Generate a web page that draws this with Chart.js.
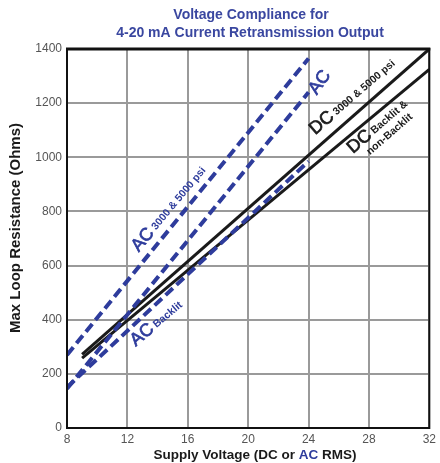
<!DOCTYPE html>
<html>
<head>
<meta charset="utf-8">
<script src="https://cdn.jsdelivr.net/npm/chart.js@4"></script>
<style>
  html, body { margin: 0; padding: 0; background: #fff; }
  #wrap { width: 440px; height: 463px; }
</style>
</head>
<body>
<div id="wrap"><canvas id="chart" width="440" height="463"></canvas></div>
<script>
// data (supply voltage V -> max loop resistance ohms)
const acHighV = [8, 24];
const acHighR = [270, 1365];
const acV = [8, 24];
const acR = [145, 1240];
const acBacklitV = [8, 24];
const acBacklitR = [150, 985];
const dcHighV = [9, 32];
const dcHighR = [272, 1400];
const dcBacklitV = [9, 32];
const dcBacklitR = [258, 1325];

const xTicks = [8, 12, 16, 20, 24, 28, 32];
const yTicks = [0, 200, 400, 600, 800, 1000, 1200, 1400];

const BLUE = '#2e3c9c';
const TITLE_BLUE = '#3a47a0';
const FONT = '"Liberation Sans", Arial, sans-serif';

const pts = (xs, ys) => xs.map((x, i) => ({ x: x, y: ys[i] }));

// ラベル: 線に沿って回転したテキスト
const lineLabels = [
    { x: 12.75, y: 648, angle: -50, big: 'AC', small: '3000 & 5000 psi', color: BLUE },
    { x: 24.55, y: 1228, angle: -55, big: 'AC', small: '', color: BLUE },
    { x: 12.55, y: 300, angle: -40, big: 'AC', small: 'Backlit', color: BLUE },
    { x: 24.45, y: 1081, angle: -41, big: 'DC', small: '3000 & 5000 psi', color: '#1a1a1a' },
    { x: 26.95, y: 1012, angle: -41, big: 'DC', small: 'Backlit &', small2: 'non-Backlit', color: '#1a1a1a' }
];

const extras = {
    id: 'extras',
    afterDatasetsDraw(chart) {
        const ctx = chart.ctx;
        const a = chart.chartArea;
        const xs = chart.scales.x, ys = chart.scales.y;

        // frame
        ctx.save();
        ctx.strokeStyle = '#111';
        ctx.lineWidth = 2;
        ctx.strokeRect(a.left, a.top, a.right - a.left, a.bottom - a.top);
        ctx.lineWidth = 3;
        ctx.beginPath();
        ctx.moveTo(a.left - 1, a.top);
        ctx.lineTo(a.right + 1, a.top);
        ctx.stroke();
        ctx.restore();

        // line labels
        lineLabels.forEach(l => {
            ctx.save();
            ctx.translate(xs.getPixelForValue(l.x), ys.getPixelForValue(l.y));
            ctx.rotate(l.angle * Math.PI / 180);
            ctx.fillStyle = l.color;
            ctx.strokeStyle = l.color;
            ctx.lineWidth = 0.7;
            ctx.textBaseline = 'alphabetic';
            ctx.textAlign = 'left';
            ctx.font = '18px ' + FONT;
            ctx.fillText(l.big, 0, 0);
            ctx.strokeText(l.big, 0, 0);
            const w = ctx.measureText(l.big).width;
            ctx.font = 'bold 10.5px ' + FONT;
            if (l.small) ctx.fillText(l.small, w + 3, -1);
            if (l.small2) ctx.fillText(l.small2, w - 14, 12);
            ctx.restore();
        });

        // titles
        ctx.save();
        ctx.fillStyle = TITLE_BLUE;
        ctx.font = 'bold 14px ' + FONT;
        ctx.textAlign = 'center';
        ctx.textBaseline = 'middle';
        ctx.fillText('Voltage Compliance for', 251, 15);
        ctx.fillText('4-20 mA Current Retransmission Output', 250, 33);

        // x title in two colours
        const parts = [['Supply Voltage (DC or ', '#1a1a1a'], ['AC', BLUE], [' RMS)', '#1a1a1a']];
        ctx.font = 'bold 13.5px ' + FONT;
        let total = 0;
        parts.forEach(p => { total += ctx.measureText(p[0]).width; });
        let px = 255 - total / 2;
        ctx.textAlign = 'left';
        parts.forEach(p => {
            ctx.fillStyle = p[1];
            ctx.fillText(p[0], px, 455);
            px += ctx.measureText(p[0]).width;
        });

        // y title
        ctx.translate(16, 228);
        ctx.rotate(-Math.PI / 2);
        ctx.textAlign = 'center';
        ctx.fillStyle = '#1a1a1a';
        ctx.font = 'bold 15px ' + FONT;
        ctx.fillText('Max Loop Resistance (Ohms)', 0, 0);
        ctx.restore();
    }
};

const dashed = { borderColor: BLUE, borderWidth: 4, borderDash: [10, 5], borderCapStyle: 'butt' };
const solid = { borderColor: '#1a1a1a', borderWidth: 3 };

new Chart(document.getElementById('chart'), {
    type: 'line',
    data: {
        datasets: [
            { label: 'AC 3000 & 5000 psi', data: pts(acHighV, acHighR), ...dashed },
            { label: 'AC', data: pts(acV, acR), ...dashed },
            { label: 'AC Backlit', data: pts(acBacklitV, acBacklitR), ...dashed },
            { label: 'DC 3000 & 5000 psi', data: pts(dcHighV, dcHighR), ...solid },
            { label: 'DC Backlit & non-Backlit', data: pts(dcBacklitV, dcBacklitR), ...solid }
        ]
    },
    options: {
        responsive: false,
        animation: false,
        parsing: false,
        elements: { point: { radius: 0 }, line: { tension: 0, fill: false } },
        layout: { padding: { top: 49, right: 8, left: 0, bottom: 0 } },
        plugins: { legend: { display: false }, tooltip: { enabled: false }, title: { display: false } },
        scales: {
            x: {
                type: 'linear', min: 8, max: 32,
                afterFit: s => { s.height = 35; },
                afterBuildTicks: s => { s.ticks = xTicks.map(v => ({ value: v })); },
                grid: { color: '#9a9a9a', lineWidth: 2, drawTicks: false },
                border: { display: false },
                ticks: { color: '#555', padding: 4, font: { family: FONT, size: 12 }, callback: v => String(v) }
            },
            y: {
                type: 'linear', min: 0, max: 1400,
                afterFit: s => { s.width = 67; },
                afterBuildTicks: s => { s.ticks = yTicks.map(v => ({ value: v })); },
                grid: { color: '#9a9a9a', lineWidth: 2, drawTicks: false },
                border: { display: false },
                ticks: { color: '#555', padding: 5, font: { family: FONT, size: 12 }, callback: v => String(v) }
            }
        }
    },
    plugins: [extras]
});
</script>
</body>
</html>
